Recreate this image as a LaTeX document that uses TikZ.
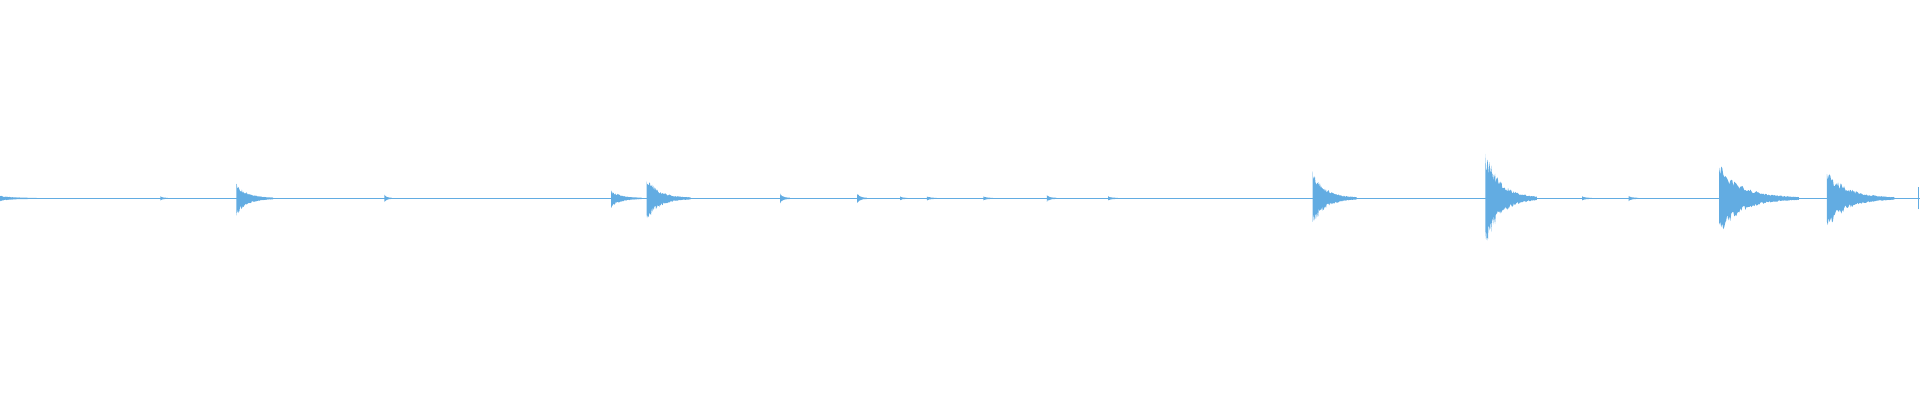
\documentclass[tikz,border=0pt]{standalone}
\begin{document}
\begin{tikzpicture}[x=1.2245pt,y=1.2245pt]
\definecolor{wave}{RGB}{98,172,226}
\useasboundingbox (0,-164.7) rectangle (1568,162);
\pgfmathsetseed{7}
\newcommand{\burst}[4]{% x, up, down, decay
  \fill[wave] plot[domain=#1:#1+#4,samples=80] (\x,{0.4+#2*exp(-3.5*(\x-#1)/#4)*(0.55+0.45*rnd)})
   -- plot[domain=#1+#4:#1,samples=80] (\x,{-0.4-#3*exp(-3.5*(\x-#1)/#4)*(0.55+0.45*rnd)}) -- cycle;}
\draw[wave,line width=0.5pt] (0,0) -- (1568,0);
\burst{0}{2}{2}{30}
\burst{131}{1.5}{1.5}{6}
\burst{193}{12}{15}{30}
\burst{314}{3}{3}{6}
\burst{499}{7}{8}{25}
\burst{528}{17}{19}{36}
\burst{637}{4}{4}{8}
\burst{700}{4}{4}{8}
\burst{735}{1.5}{1.5}{6}
\burst{757}{1.5}{1.5}{8}
\burst{803}{1.5}{1.5}{8}
\burst{855}{2.5}{2.5}{8}
\burst{905}{1.5}{1.5}{8}
\burst{1072}{22}{22}{36}
\burst{1213}{40}{41}{42}
\burst{1292}{1.5}{1.5}{8}
\burst{1330}{2}{2}{8}
\burst{1404}{28}{30}{65}
\burst{1492}{25}{26}{55}
\draw[wave,line width=0.8pt] (1567,-9) -- (1567,9);
\end{tikzpicture}
\end{document}
